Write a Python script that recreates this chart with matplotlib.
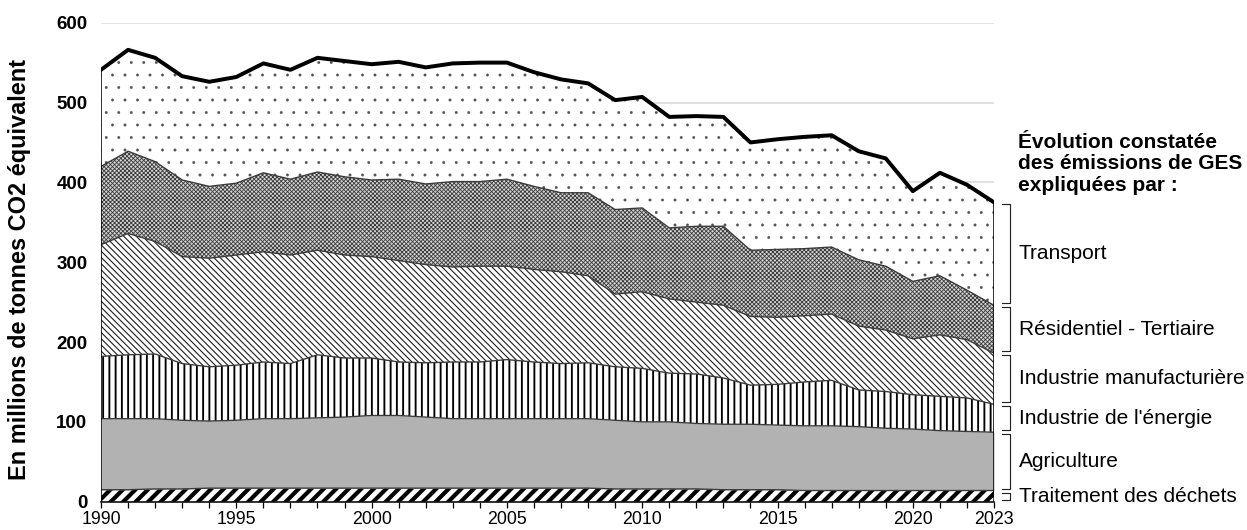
import matplotlib
matplotlib.use('Agg')
import matplotlib.pyplot as plt
import numpy as np

# rendering at 75 dpi makes the hatch spacing close to the reference
DPI = 75
BSL = chr(92)  # backslash, for the hatch pattern

YEARS = list(range(1990, 2024))

TRAITEMENT_DECHETS = [15, 15, 16, 16, 17, 17, 17, 17, 17, 17, 17, 17, 17, 17, 17, 17, 17,
                      17, 17, 16, 16, 16, 16, 15, 15, 15, 14, 14, 14, 14, 14, 14, 14, 14]
AGRICULTURE = [89, 89, 88, 86, 84, 85, 87, 87, 88, 89, 91, 91, 89, 87, 87, 87, 87,
               87, 87, 86, 84, 84, 82, 82, 82, 81, 81, 81, 80, 78, 77, 75, 74, 73]
INDUSTRIE_ENERGIE = [78, 80, 81, 71, 68, 69, 71, 69, 79, 74, 72, 67, 68, 71, 71, 74, 71,
                     69, 70, 67, 67, 61, 62, 58, 49, 51, 55, 57, 46, 46, 43, 43, 42, 35]
INDUSTRIE_MANUF = [140, 152, 141, 134, 136, 138, 138, 136, 131, 129, 127, 127, 123, 119,
                   120, 117, 116, 115, 109, 91, 96, 93, 90, 91, 86, 84, 83, 83, 80, 77,
                   70, 77, 73, 64]
RESIDENTIEL = [98, 103, 100, 96, 90, 90, 99, 95, 98, 98, 96, 102, 101, 107, 106, 109, 104,
               99, 104, 106, 105, 89, 95, 99, 83, 85, 84, 84, 83, 80, 72, 74, 62, 60]
TRANSPORT = [121, 127, 130, 130, 131, 133, 137, 137, 143, 145, 145, 147, 146, 148, 149,
             146, 143, 142, 137, 137, 139, 139, 138, 137, 135, 138, 140, 140, 136, 135,
             113, 129, 132, 129]

LABELS = ['Traitement des déchets', 'Agriculture', "Industrie de l'énergie",
          'Industrie manufacturière', 'Résidentiel - Tertiaire', 'Transport']
HEADER = 'Évolution constatée\ndes émissions de GES\nexpliquées par :'
Y_LABEL = 'En millions de tonnes CO2 équivalent'

# facecolor, hatch, hatch colour, hatch linewidth
STYLES = [
    ('white', '//', 'black', 4.0),
    ('#b2b2b2', None, '#b2b2b2', 1.0),
    ('white', '||', 'black', 1.8),
    ('white', BSL * 4, '#222222', 1.1),
    ('#d4d4d4', 'xxxxxx', '#3a3a3a', 0.8),
    ('white', '.', '#505050', 0.3),
]


def main():
    plt.rcParams['font.family'] = ['Liberation Sans', 'DejaVu Sans']

    fig = plt.figure(figsize=(1247 / DPI, 530 / DPI), dpi=DPI)
    ax = fig.add_axes([101 / 1247, 1 - 501.7 / 530, 893 / 1247, 479 / 530])

    years = np.array(YEARS)
    series = [TRAITEMENT_DECHETS, AGRICULTURE, INDUSTRIE_ENERGIE,
              INDUSTRIE_MANUF, RESIDENTIEL, TRANSPORT]

    bottom = np.zeros(len(years))
    bounds = []
    for values, (face, hatch, hcolor, hlw) in zip(series, STYLES):
        top = bottom + np.array(values)
        plt.rcParams['hatch.linewidth'] = hlw
        coll = ax.fill_between(years, bottom, top, facecolor=face, hatch=hatch,
                               edgecolor=hcolor, linewidth=0, zorder=2)
        if hasattr(coll, 'set_hatch_linewidth'):
            coll.set_hatch_linewidth(hlw)
        ax.plot(years, top, color='#3a3a3a', lw=1.3, zorder=3)
        bounds.append((bottom[-1], top[-1]))
        bottom = top

    # total line and vertical edges of the stack
    ax.plot(years, bottom, color='black', lw=3.8, zorder=4)
    ax.vlines([years[0], years[-1]], 0, [bottom[0], bottom[-1]],
              color='black', lw=1.5, zorder=4)

    ax.set_xlim(years[0], years[-1])
    ax.set_ylim(0, 600)

    ax.set_xticks(years)
    ax.set_xticklabels([str(y) if (y % 5 == 0 or y == years[-1]) else '' for y in years])
    ax.tick_params(axis='x', length=6, width=1.2, color='black', labelsize=17, pad=3)
    ax.set_yticks(range(0, 601, 100))
    ax.tick_params(axis='y', length=0, pad=13, labelsize=18)
    for lbl in ax.get_yticklabels():
        lbl.set_fontweight('bold')

    ax.yaxis.grid(True, color='#d9d9d9', lw=1.5)
    ax.set_axisbelow(True)
    for side in ['top', 'right', 'left']:
        ax.spines[side].set_visible(False)
    ax.spines['bottom'].set_linewidth(1.5)
    ax.spines['bottom'].set_zorder(5)

    # brackets and sector names on the right
    gap = 2.5
    for name, (lo, hi) in zip(LABELS, bounds):
        ax.plot([2023.3, 2023.59, 2023.59, 2023.3], [hi - gap, hi - gap, lo + gap, lo + gap],
                color='#222222', lw=1.1, clip_on=False)
        ax.text(2023.92, (lo + hi) / 2, name, fontsize=20, va='center', ha='left',
                clip_on=False)

    fig.text(1018 / 1247, 1 - 133 / 530, HEADER, fontsize=20, fontweight='bold',
             va='top', ha='left', linespacing=1.15)
    fig.text(20 / 1247, 1 - 269 / 530, Y_LABEL, fontsize=22.5, fontweight='bold',
             rotation=90, va='center', ha='center')

    fig.savefig('out.png', dpi=DPI)


if __name__ == '__main__':
    main()
